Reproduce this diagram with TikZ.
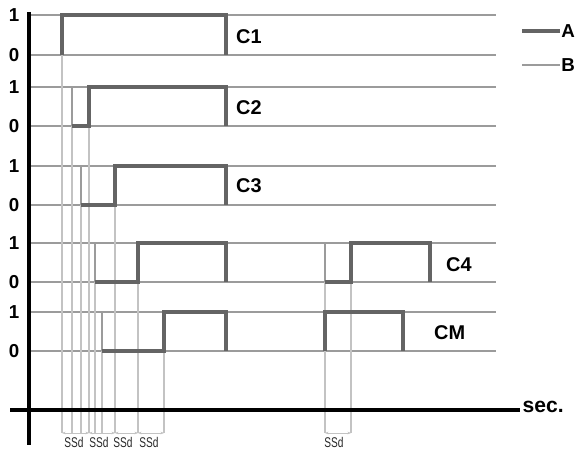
\documentclass[tikz,border=0pt]{standalone}
\usepackage{fontspec}
\setmainfont{Liberation Sans}
\usepackage{tikz}
\usetikzlibrary{arrows.meta, positioning}

\definecolor{wavegray}{RGB}{100,100,100}
\definecolor{levelgray}{RGB}{155,155,155}
\definecolor{guidegray}{RGB}{195,195,195}

\begin{document}
\begin{tikzpicture}[
    x=0.03cm, y=-0.03cm,
    wave/.style={draw=wavegray, line width=2.7pt, line join=miter},
    level/.style={draw=levelgray, line width=1.8pt},
    guide/.style={draw=guidegray, line width=1pt},
    axis/.style={draw=black, line width=3.2pt},
    dim/.style={{Stealth[length=3pt]}-{Stealth[length=3pt]}, draw=guidegray, line width=0.7pt},
    value/.style={font=\bfseries\fontsize{16}{16}\selectfont},
    channel/.style={font=\bfseries\fontsize{17}{17}\selectfont, anchor=west},
    ssd/.style={font=\fontsize{12}{12}\selectfont, text=black!85, anchor=north}
]
\useasboundingbox (0,0) rectangle (582,454);

% Niveaux 0/1 de chaque canal
\foreach \yy in {15,55,87,126,166,205,243,282,312,351}
    \draw[level] (29,\yy) -- (496,\yy);

% Lignes de repere (temps)
\draw[guide] (62,15) -- (62,433);
\draw[guide] (72,87) -- (72,433);
\draw[guide] (89,87) -- (89,433);
\draw[guide] (81,166) -- (81,433);
\draw[guide] (115,166) -- (115,433);
\draw[guide] (95,243) -- (95,433);
\draw[guide] (138,243) -- (138,433);
\draw[guide] (102,312) -- (102,433);
\draw[guide] (164,312) -- (164,433);
\draw[guide] (325,243) -- (325,433);
\draw[guide] (351,243) -- (351,433);

% Axes
\draw[axis] (29,12) -- (29,445);
\draw[axis] (10,410) -- (520,410);
\node[font=\bfseries\fontsize{18}{18}\selectfont, anchor=west, inner sep=2pt] (sec) at (520,407) {sec.};

% Valeurs 1/0
\foreach \yy/\v in {15/1,55/0,87/1,126/0,166/1,205/0,243/1,282/0,312/1,351/0}
    \node[value] at (14,\yy) {\v};

% Courbes B (fronts)
\draw[level] (72,87) -- (72,126);
\draw[level] (81,166) -- (81,205);
\draw[level] (95,243) -- (95,282);
\draw[level] (102,312) -- (102,351);
\draw[level] (325,243) -- (325,282);

% Courbes A
\draw[wave] (62,55) -- (62,15) -- (226,15) -- (226,55);
\draw[wave] (72,126) -- (89,126) -- (89,87) -- (226,87) -- (226,126);
\draw[wave] (81,205) -- (115,205) -- (115,166) -- (226,166) -- (226,205);
\draw[wave] (95,282) -- (138,282) -- (138,243) -- (226,243) -- (226,282);
\draw[wave] (325,282) -- (351,282) -- (351,243) -- (430,243) -- (430,282);
\draw[wave] (102,351) -- (164,351) -- (164,312) -- (226,312) -- (226,351);
\draw[wave] (325,351) -- (325,312) -- (403,312) -- (403,351);

% Noms des canaux
\node[channel] (c1) at (232,37) {C1};
\node[channel] (c2) at (232,108) {C2};
\node[channel] (c3) at (232,186) {C3};
\node[channel] (c4) at (442,265) {C4};
\node[channel] (cm) at (430,333) {CM};

% Intervalles SSd
\draw[dim] (62,433) -- (89,433);
\draw[dim] (89,433) -- (115,433);
\draw[dim] (115,433) -- (138,433);
\draw[dim] (138,433) -- (164,433);
\draw[dim] (325,433) -- (351,433);
\node[ssd] (ssd1) at (74,433) {\scalebox{0.72}[1]{SSd}};
\node[ssd] (ssd2) at (99,433) {\scalebox{0.72}[1]{SSd}};
\node[ssd] (ssd3) at (123,433) {\scalebox{0.72}[1]{SSd}};
\node[ssd] (ssd4) at (149,433) {\scalebox{0.72}[1]{SSd}};
\node[ssd] (ssd5) at (334,433) {\scalebox{0.72}[1]{SSd}};

% Legende
\coordinate (la) at (522,31);
\coordinate (lb) at (522,65);
\node[channel, font=\bfseries\fontsize{16}{16}\selectfont, inner sep=1pt] (a) at (560,31) {A};
\node[channel, font=\bfseries\fontsize{16}{16}\selectfont, inner sep=1pt] (b) at (560,65) {B};
\draw[wave] (la) -- (a.west);
\draw[level] (lb) -- (b.west);

\end{tikzpicture}
\end{document}
